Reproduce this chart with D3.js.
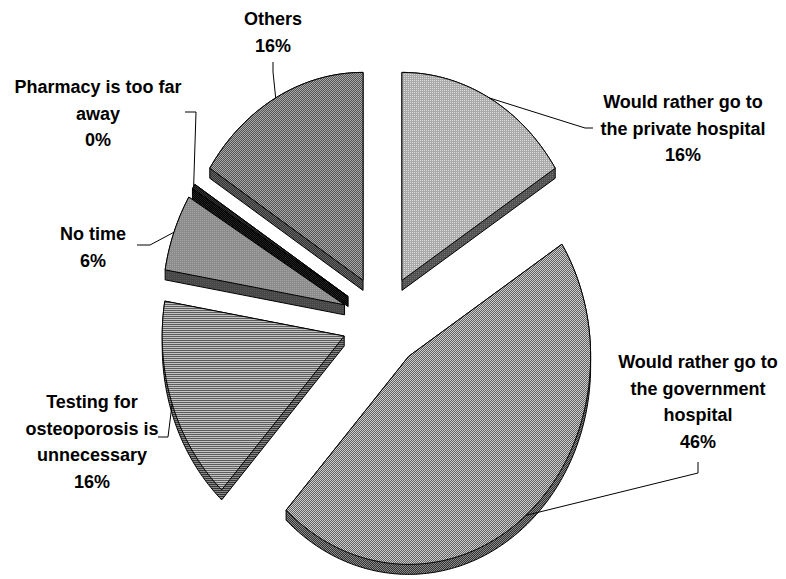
<!DOCTYPE html>
<html>
<head>
<meta charset="utf-8">
<script src="https://cdn.jsdelivr.net/npm/d3@7"></script>
<style>
  html, body { margin: 0; padding: 0; background: #fff; }
  svg { display: block; }
  text { font-family: "Liberation Sans", Arial, sans-serif; font-weight: bold; font-size: 18px; fill: #000; }
</style>
</head>
<body>
<svg id="chart" width="786" height="579"></svg>
<script>
// ---- data ----
const categories = [
  "Would rather go to the private hospital",
  "Would rather go to the government hospital",
  "Testing for osteoporosis is unnecessary",
  "No time",
  "Pharmacy is too far away",
  "Others"
];
const values = [16, 46, 16, 6, 0.4, 16];
const labelLines = [
  ["Would rather go to", "the private hospital"],
  ["Would rather go to", "the government", "hospital"],
  ["Testing for", "osteoporosis is", "unnecessary"],
  ["No time"],
  ["Pharmacy is too far", "away"],
  ["Others"]
];

// ---- layout / style ----
const W = 786, H = 579;
const cx = 382.5, cy = 321, rx = 182, ry = 208, explode = 0.2225, depth = 10;
const lineH = 26.7;
const labelLayout = [
  { cx: 683, y: 108, elbow: [585, 128], end: [593, 128] },
  { cx: 698, y: 368, elbow: [698, 473], end: [698, 462] },
  { cx: 92,  y: 408, elbow: [168, 437], end: [158, 437] },
  { cx: 93,  y: 240, elbow: [150, 245], end: [137, 245] },
  { cx: 98,  y: 93,  elbow: [196, 112], end: [185, 112] },
  { cx: 273, y: 25,  elbow: [273, 72],  end: [273, 62] }
];
const drawOrder = [5, 4, 3, 0, 2, 1];

const svg = d3.select("#chart");
const defs = svg.append("defs");

function checker(id, a, b) {
  const p = defs.append("pattern").attr("id", id).attr("patternUnits", "userSpaceOnUse")
    .attr("width", 2).attr("height", 2);
  p.append("rect").attr("width", 2).attr("height", 2).attr("fill", a);
  p.append("rect").attr("width", 1).attr("height", 1).attr("fill", b);
  p.append("rect").attr("x", 1).attr("y", 1).attr("width", 1).attr("height", 1).attr("fill", b);
}
function dots(id, a, b) {
  const p = defs.append("pattern").attr("id", id).attr("patternUnits", "userSpaceOnUse")
    .attr("width", 2).attr("height", 2);
  p.append("rect").attr("width", 2).attr("height", 2).attr("fill", a);
  p.append("rect").attr("width", 1).attr("height", 1).attr("fill", b);
}
function hstripes(id, a, b) {
  const p = defs.append("pattern").attr("id", id).attr("patternUnits", "userSpaceOnUse")
    .attr("width", 2).attr("height", 2);
  p.append("rect").attr("width", 2).attr("height", 2).attr("fill", a);
  p.append("rect").attr("width", 2).attr("height", 1).attr("fill", b);
}

dots("pPrivate", "#a9a9a9", "#dcdcdc");
checker("pGov", "#606060", "#cfcfcf");
hstripes("pTesting", "#c4c4c4", "#5c5c5c");
dots("pNoTime", "#8c8c8c", "#a4a4a4");
checker("pPharm", "#111", "#333");
checker("pOthers", "#555", "#a8a8a8");

dots("sPrivate", "#505050", "#707070");
checker("sGov", "#333", "#8a8a8a");
hstripes("sTesting", "#888", "#333");
dots("sNoTime", "#474747", "#5a5a5a");
checker("sPharm", "#000", "#222");
checker("sOthers", "#333", "#666");

const topFill = ["url(#pPrivate)", "url(#pGov)", "url(#pTesting)", "url(#pNoTime)", "url(#pPharm)", "url(#pOthers)"];
const sideFill = ["url(#sPrivate)", "url(#sGov)", "url(#sTesting)", "url(#sNoTime)", "url(#sPharm)", "url(#sOthers)"];

const arcs = d3.pie().sort(null).value(d => d)(values);
const total = d3.sum(values);

function pt(a, ox, oy) { return [ox + rx * Math.sin(a), oy - ry * Math.cos(a)]; }
const line = d3.line().curve(d3.curveLinearClosed);

const gSlices = svg.append("g");
const geo = arcs.map(a => {
  const m = (a.startAngle + a.endAngle) / 2;
  const ox = cx + explode * rx * Math.sin(m);
  const oy = cy - explode * ry * Math.cos(m);
  const n = Math.max(2, Math.ceil((a.endAngle - a.startAngle) / (Math.PI / 180)));
  const top = [[ox, oy]];
  for (let i = 0; i <= n; i++) {
    const t = a.startAngle + (a.endAngle - a.startAngle) * i / n;
    top.push(pt(t, ox, oy));
  }
  const bottom = top.map(([x, y]) => [x, y + depth]);
  const hull = d3.polygonHull(top.concat(bottom));
  return { m, ox, oy, top, hull };
});

drawOrder.forEach(i => {
  const g = geo[i];
  gSlices.append("path").attr("d", line(g.hull))
    .attr("fill", sideFill[i]).attr("stroke", "#000").attr("stroke-width", 1)
    .attr("stroke-linejoin", "round");
  gSlices.append("path").attr("d", line(g.top))
    .attr("fill", topFill[i]).attr("stroke", "#000").attr("stroke-width", 1)
    .attr("stroke-linejoin", "round");
});

// leader lines
const gLead = svg.append("g");
geo.forEach((g, i) => {
  const touch = pt(g.m, g.ox, g.oy);
  const L = labelLayout[i];
  gLead.append("path")
    .attr("d", d3.line()([touch, L.elbow, L.end]))
    .attr("fill", "none").attr("stroke", "#000").attr("stroke-width", 1);
});

// labels
const gLab = svg.append("g");
labelLines.forEach((lines, i) => {
  const L = labelLayout[i];
  const pct = Math.round(values[i] / total * 100) + "%";
  const all = lines.concat([pct]);
  const t = gLab.append("text").attr("text-anchor", "middle");
  all.forEach((s, k) => {
    t.append("tspan").attr("x", L.cx).attr("y", L.y + k * lineH).text(s);
  });
});
</script>
</body>
</html>
